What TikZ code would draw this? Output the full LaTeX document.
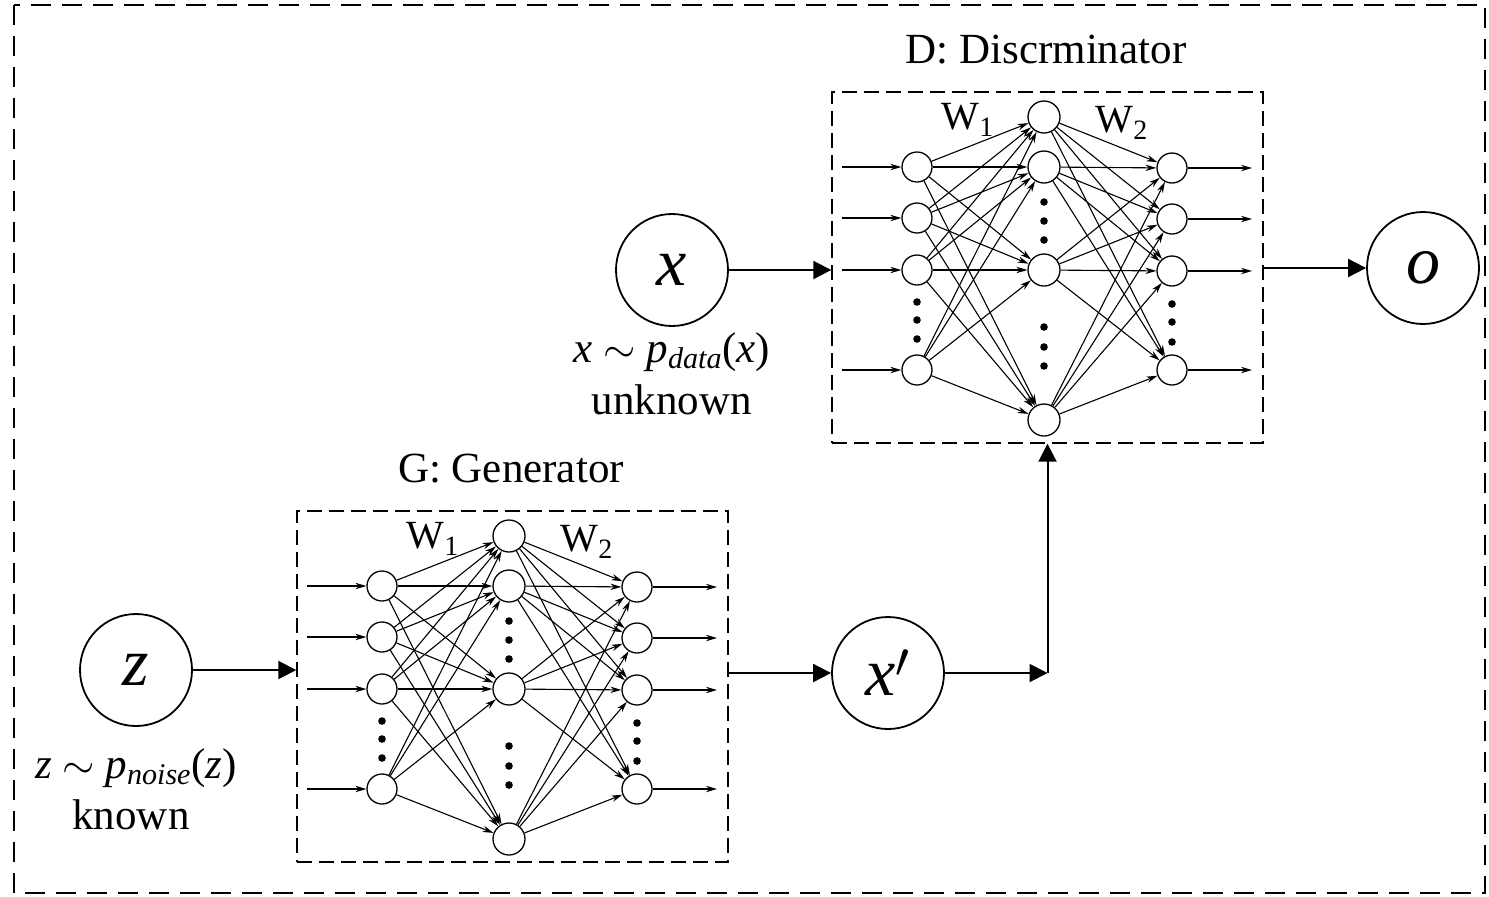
\documentclass[tikz,border=0pt]{standalone}
\usepackage{fontspec}
\setmainfont{Liberation Serif}
\usetikzlibrary{arrows.meta,calc}

\tikzset{
  neuron/.style={circle, draw, line width=0.65pt, minimum size=15pt, inner sep=0pt},
  bigcirc/.style={circle, draw, line width=0.9pt, minimum size=56pt, inner sep=0pt,
                  font=\fontsize{34}{34}\selectfont\itshape},
  wire/.style={line width=0.55pt, -{Stealth[length=5.5pt,width=3.2pt]}},
  flow/.style={line width=1pt, -{Triangle[length=9pt,width=9pt]}},
  netbox/.style={draw, line width=0.7pt, dash pattern=on 7.5pt off 3.5pt},
  outerbox/.style={draw, line width=1.3pt, dash pattern=on 10pt off 5.5pt},
  dot/.style={circle, fill, inner sep=0pt, minimum size=3.8pt},
  lbl/.style={font=\fontsize{21.5}{24}\selectfont},
  wlbl/.style={font=\fontsize{20}{22}\selectfont},
}

% Two-layer fully connected block: #1 name prefix, #2/#3 shift, #4 title
\newcommand\mlpblock[4]{%
\begin{scope}[shift={(#2,#3)}]
  \node[netbox, minimum width=215.5pt, minimum height=175.5pt, inner sep=0pt]
       (#1box) at (1047.5,267.5) {};
  \node[lbl] (#1title) at (1046,50) {#4};
  \node[wlbl] (#1wa) at (968,120) {W\textsubscript{1}};
  \node[wlbl] (#1wb) at (1122,123) {W\textsubscript{2}};
  % input layer
  \foreach \k/\y in {1/167,2/218,3/270,4/370} {
    \node[neuron] (#1a\k) at (917,\y) {};
    \coordinate (#1in\k) at (842,\y);
    \draw[wire] (#1in\k) -- (#1a\k);
  }
  % hidden layer
  \foreach \k/\y in {1/117,2/167,3/270,4/420}
    \node[neuron, minimum size=16pt] (#1h\k) at (1044,\y) {};
  % output layer
  \foreach \k/\y in {1/168,2/219,3/271,4/370} {
    \node[neuron] (#1b\k) at (1172,\y) {};
    \coordinate (#1out\k) at (1252,\y);
    \draw[wire] (#1b\k) -- (#1out\k);
  }
  % ellipsis dots
  \foreach \k/\y in {1/302,2/320,3/339}
    \node[dot] (#1da\k) at (917,\y) {};
  \foreach \k/\y in {1/202,2/221,3/240,4/327,5/347,6/366}
    \node[dot] (#1dh\k) at (1044,\y) {};
  \foreach \k/\y in {1/304,2/322,3/342}
    \node[dot] (#1db\k) at (1172,\y) {};
  % weights
  \foreach \i in {1,...,4}
    \foreach \j in {1,...,4} {
      \draw[wire] (#1a\i) -- (#1h\j);
      \draw[wire] (#1h\i) -- (#1b\j);
    }
\end{scope}}

\begin{document}
\begin{tikzpicture}[x=0.5pt, y=-0.5pt]
  \useasboundingbox (0,0) rectangle (1489,896);
  \draw[outerbox] (14,5) rectangle (1485,893);

  \mlpblock{D}{0}{0}{D: Discrminator}
  \mlpblock{G}{-535}{419}{G: Generator}

  % data and noise sources
  \node[bigcirc] (x) at (672,270) {x};
  \node[lbl] (xdist) at (672,352) {\textit{x} $\sim$ \textit{p}\textsubscript{\textit{data}}(\textit{x})};
  \node[lbl] (xnote) at (672,400) {unknown};

  \node[bigcirc] (z) at (136,670) {z};
  \node[lbl] (zdist) at (136,768) {\textit{z} $\sim$ \textit{p}\textsubscript{\textit{noise}}(\textit{z})};
  \node[lbl] (znote) at (131,815) {known};

  \node[bigcirc] (xp) at (888,673) {x$'$};
  \node[bigcirc] (o) at (1423,268) {o};

  % data flow
  \draw[flow] (x) -- (x -| Dbox.west);
  \draw[flow] (z) -- (z -| Gbox.west);
  \draw[flow] (xp -| Gbox.east) -- (xp);
  \coordinate (turn) at (xp -| Dbox.south);
  \draw[flow] (xp) -- (turn);
  \draw[flow] (turn) -- (Dbox.south);
  \draw[flow] (o -| Dbox.east) -- (o);
\end{tikzpicture}
\end{document}
